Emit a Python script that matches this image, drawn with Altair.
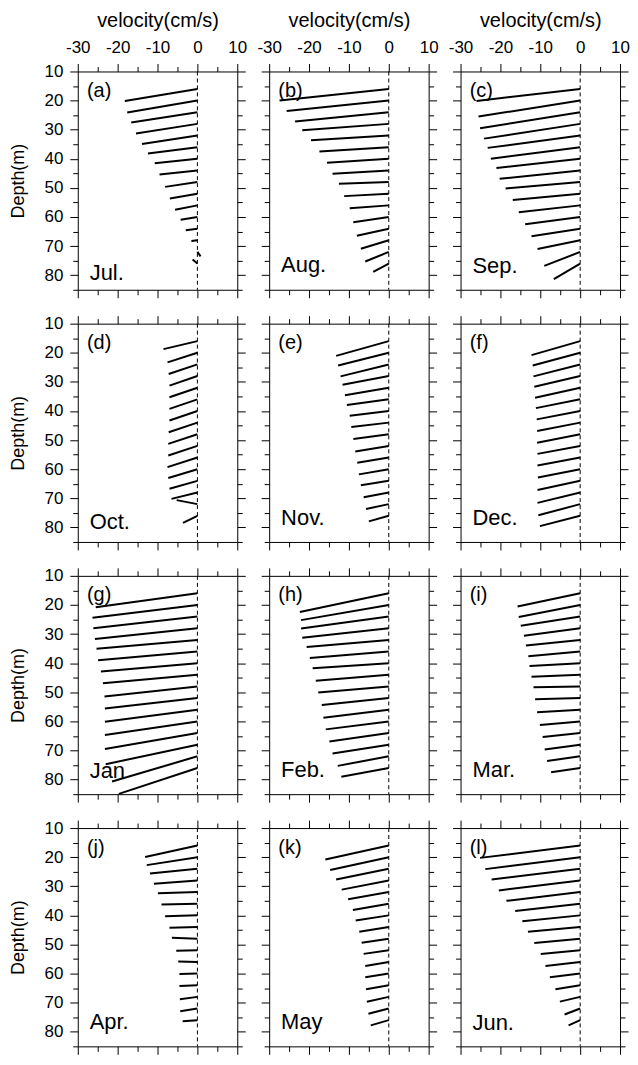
import altair as alt
import pandas as pd

# Depths (m) at which each velocity stick starts
DEPTHS = [16, 20, 24, 28, 32, 36, 40, 44, 48, 52, 56, 60, 64, 68, 72, 76]

LETTERS = ["(a)", "(b)", "(c)", "(d)", "(e)", "(f)", "(g)", "(h)", "(i)", "(j)", "(k)", "(l)"]
MONTHS = ["Jul.", "Aug.", "Sep.", "Oct.", "Nov.", "Dec.", "Jan", "Feb.", "Mar.", "Apr.", "May", "Jun."]
MONTH_LABEL_DEPTH = [79.3, 76.5, 76.9, 78.1, 76.8, 76.9, 77.2, 76.6, 76.6, 76.5, 76.6, 76.9]

# u = east-west component (cm/s), v = north-south component (cm/s)
U_JUL = [-18.2, -17.6, -16.6, -15.4, -13.9, -12.4, -10.7, -9.5, -8.1, -6.9, -5.6, -4.2, -2.9, -1.5, 0.8, -1.2]
V_JUL = [-3.0, -3.0, -2.6, -2.4, -2.1, -1.6, -1.1, -1.0, -1.2, -1.2, -1.1, -0.7, -0.4, -0.2, -1.1, 1.0]
U_AUG = [-27.4, -25.6, -23.5, -21.7, -19.5, -17.4, -15.5, -14.1, -12.5, -11.2, -9.8, -8.9, -8.0, -7.0, -5.9, -3.9]
V_AUG = [-2.9, -2.6, -2.3, -1.6, -1.2, -1.1, -1.0, -0.8, -0.4, -0.6, -0.7, -1.3, -1.8, -2.1, -2.4, -2.1]
U_SEP = [-26.0, -25.5, -25.1, -24.1, -23.2, -22.4, -21.0, -20.2, -18.7, -16.9, -15.4, -13.8, -12.2, -10.7, -9.0, -6.6]
V_SEP = [-3.0, -4.0, -4.0, -3.7, -3.1, -2.9, -2.3, -2.1, -1.6, -1.6, -1.7, -1.8, -1.9, -2.2, -3.5, -3.9]
U_OCT = [-8.5, -7.5, -7.2, -7.0, -7.0, -7.0, -7.0, -7.2, -7.3, -7.3, -7.5, -7.3, -7.0, -6.5, -5.2, -3.6]
V_OCT = [-2.0, -2.4, -2.4, -2.4, -2.4, -2.4, -2.4, -2.4, -2.4, -2.4, -2.4, -2.2, -2.0, -1.6, 1.0, -1.8]
U_NOV = [-13.2, -12.7, -12.1, -11.6, -11.0, -10.5, -9.8, -9.4, -8.9, -8.4, -7.9, -7.5, -7.0, -6.3, -5.7, -5.0]
V_NOV = [-3.7, -3.2, -3.0, -2.2, -1.9, -1.4, -1.2, -1.1, -1.2, -1.4, -1.3, -1.3, -1.1, -1.2, -1.2, -1.4]
U_DEC = [-12.2, -11.9, -11.7, -11.5, -11.3, -11.1, -10.9, -10.8, -10.8, -10.7, -10.7, -10.6, -10.7, -10.7, -10.5, -10.1]
V_DEC = [-3.5, -3.2, -3.0, -2.7, -2.5, -2.2, -2.1, -2.1, -2.1, -2.0, -2.0, -2.1, -2.3, -2.6, -2.8, -2.6]
U_JAN = [-25.5, -26.3, -26.1, -25.7, -25.3, -24.9, -24.2, -23.7, -23.3, -23.2, -23.2, -23.2, -23.2, -23.0, -21.4, -19.7]
V_JAN = [-3.5, -3.2, -2.9, -2.7, -2.2, -2.2, -2.1, -2.1, -2.5, -2.6, -3.0, -3.4, -4.0, -4.9, -6.3, -6.5]
U_FEB = [-22.3, -22.0, -22.0, -21.7, -20.6, -19.8, -19.1, -18.3, -17.7, -16.8, -16.4, -15.8, -14.9, -14.1, -12.8, -11.9]
V_FEB = [-4.7, -3.8, -3.0, -2.4, -1.8, -1.6, -1.3, -1.5, -1.5, -1.7, -2.0, -2.0, -2.1, -2.2, -2.4, -2.2]
U_MAR = [-15.7, -15.4, -14.9, -14.1, -13.6, -13.0, -12.7, -12.2, -11.7, -11.3, -10.8, -10.1, -9.4, -8.9, -8.3, -7.3]
V_MAR = [-3.3, -3.0, -2.3, -1.9, -1.4, -1.2, -0.7, -0.5, -0.2, -0.3, -0.6, -0.9, -1.0, -1.2, -1.2, -1.1]
U_APR = [-13.1, -12.7, -11.9, -10.9, -9.9, -9.0, -8.1, -7.0, -6.4, -5.3, -4.8, -4.5, -4.5, -4.4, -4.3, -3.7]
V_APR = [-2.9, -2.0, -1.2, -0.8, -0.3, -0.2, -0.2, -0.2, 0.2, -0.1, 0.1, -0.1, -0.2, -0.6, -0.7, -0.3]
U_MAY = [-15.9, -14.7, -13.2, -11.8, -10.2, -9.0, -8.3, -7.4, -6.8, -6.3, -5.9, -5.9, -5.7, -5.5, -5.1, -4.5]
V_MAY = [-3.5, -3.2, -2.7, -2.3, -1.8, -1.6, -1.3, -1.2, -1.0, -0.9, -1.0, -0.9, -1.0, -1.2, -1.3, -1.3]
U_JUN = [-25.1, -23.8, -22.2, -20.4, -18.5, -16.3, -14.5, -13.1, -11.5, -9.9, -8.7, -7.6, -6.2, -5.1, -3.9, -2.9]
V_JUN = [-3.1, -3.0, -2.7, -2.5, -2.2, -1.8, -1.5, -1.2, -1.1, -0.9, -1.0, -0.9, -1.0, -1.2, -1.5, -1.3]

U_ALL = [U_JUL, U_AUG, U_SEP, U_OCT, U_NOV, U_DEC, U_JAN, U_FEB, U_MAR, U_APR, U_MAY, U_JUN]
V_ALL = [V_JUL, V_AUG, V_SEP, V_OCT, V_NOV, V_DEC, V_JAN, V_FEB, V_MAR, V_APR, V_MAY, V_JUN]

X_DOMAIN = [-30, 10]
Y_DOMAIN = [10, 85]
X_MAJOR = [-30, -20, -10, 0, 10]
X_MINOR = [-25, -15, -5, 5]
Y_MAJOR = [10, 20, 30, 40, 50, 60, 70, 80]
Y_MINOR = [15, 25, 35, 45, 55, 65, 75, 85]

W, H = 160, 219
# metres of depth per cm/s so that sticks keep their true direction on screen
K = (W / (X_DOMAIN[1] - X_DOMAIN[0])) / (H / (Y_DOMAIN[1] - Y_DOMAIN[0]))

FONT = "Liberation Sans"
LABEL_EXPR = "'' + datum.value"


def make_axis(orient, values, major, labels=False, title=None):
    horizontal = orient in ("top", "bottom")
    kw = dict(
        orient=orient, values=values, tickSize=8 if major else 5,
        labels=labels, domain=major, grid=False, labelOverlap=False,
        labelFont=FONT, labelFontSize=17, labelColor="black",
        titleFont=FONT, titleFontWeight="normal", titleColor="black",
        tickColor="black", domainColor="black", tickWidth=1, domainWidth=1,
        minExtent=0, labelExpr=LABEL_EXPR,
        title=title if title else None,
    )
    if horizontal:
        kw.update(labelFlush=False, labelPadding=7, titleFontSize=20,
                  titleY=-51, titleBaseline="middle")
    else:
        kw.update(labelPadding=7, titlePadding=17, titleFontSize=18)
    return alt.Axis(**kw)


def panel(i):
    row, col = divmod(i, 3)
    df = pd.DataFrame({"depth": DEPTHS, "u": U_ALL[i], "v": V_ALL[i]})
    df["x0"] = 0.0
    df["end"] = df["depth"] - df["v"] * K

    xs = alt.Scale(domain=X_DOMAIN, nice=False, zero=False)
    ys = alt.Scale(domain=Y_DOMAIN, reverse=True, nice=False, zero=False)

    base = alt.Chart(df)
    sticks = base.mark_rule(color="black", strokeWidth=2).encode(
        x=alt.X("x0:Q", scale=xs,
                axis=make_axis("top", X_MAJOR, True, labels=(row == 0),
                               title="velocity(cm/s)" if row == 0 else None)),
        x2="u:Q",
        y=alt.Y("depth:Q", scale=ys,
                axis=make_axis("left", Y_MAJOR, True, labels=(col == 0),
                               title="Depth(m)" if col == 0 else None)),
        y2="end:Q",
    )
    l_top_minor = base.mark_rule(opacity=0).encode(
        x=alt.X("x0:Q", scale=xs, axis=make_axis("top", X_MINOR, False)),
        y=alt.Y("depth:Q", scale=ys, axis=make_axis("left", Y_MINOR, False)),
    )
    l_bottom_major = base.mark_rule(opacity=0).encode(
        x=alt.X("x0:Q", scale=xs, axis=make_axis("bottom", X_MAJOR, True)),
        y=alt.Y("depth:Q", scale=ys, axis=make_axis("right", Y_MAJOR, True)),
    )
    l_bottom_minor = base.mark_rule(opacity=0).encode(
        x=alt.X("x0:Q", scale=xs, axis=make_axis("bottom", X_MINOR, False)),
        y=alt.Y("depth:Q", scale=ys, axis=make_axis("right", Y_MINOR, False)),
    )
    zero = alt.Chart(pd.DataFrame({"z": [0.0]})).mark_rule(
        color="black", strokeWidth=1, strokeDash=[4, 3]
    ).encode(x=alt.X("z:Q", scale=xs, axis=None))

    lab = pd.DataFrame({"lx": [-27.7], "ly": [16.7], "t": [LETTERS[i]]})
    letter = alt.Chart(lab).mark_text(
        align="left", baseline="middle", font=FONT, fontSize=20, color="black"
    ).encode(x=alt.X("lx:Q", scale=xs, axis=None),
             y=alt.Y("ly:Q", scale=ys, axis=None), text="t:N")
    mlab = pd.DataFrame({"lx": [-27.0], "ly": [MONTH_LABEL_DEPTH[i]], "t": [MONTHS[i]]})
    month = alt.Chart(mlab).mark_text(
        align="left", baseline="middle", font=FONT, fontSize=22, color="black"
    ).encode(x=alt.X("lx:Q", scale=xs, axis=None),
             y=alt.Y("ly:Q", scale=ys, axis=None), text="t:N")

    return alt.layer(
        zero, sticks, l_top_minor, l_bottom_major, l_bottom_minor, letter, month
    ).resolve_axis(x="independent", y="independent").properties(width=W, height=H)


panels = [panel(i) for i in range(12)]

chart = alt.concat(
    *panels, columns=3, spacing={"row": 34, "column": 32}, bounds="flush"
).properties(padding={"left": 1, "top": 1, "right": 0, "bottom": 0}).configure_view(stroke=None)

chart.save("out.html", embed_options={"renderer": "svg", "actions": False})
